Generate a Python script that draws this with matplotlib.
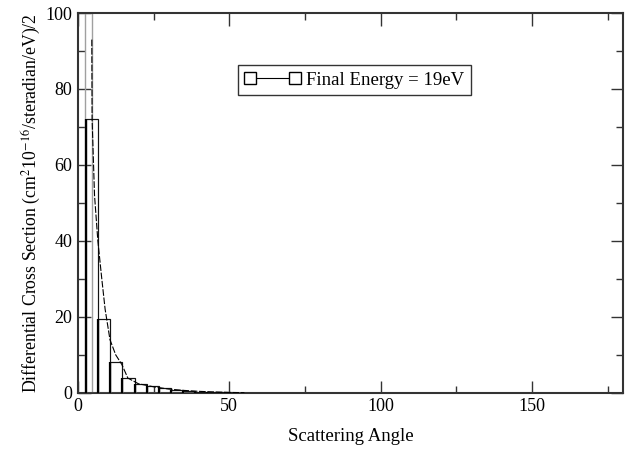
import numpy as np
import matplotlib.pyplot as plt
from matplotlib.lines import Line2D

# histogram bins (left edges, width 4 deg) and heights
bin_left = [2.7, 6.7, 10.7, 14.7, 18.7, 22.7, 26.7, 30.7, 34.7, 38.7, 42.7, 46.7, 50.7]
bin_height = [72, 19.5, 8.1, 3.9, 2.3, 1.8, 1.2, 0.8, 0.6, 0.35, 0.2, 0.12, 0.08]
bin_width = 4.0

# narrow first bin (off scale)
spike_left = 2.3
spike_right = 4.6
spike_height = 130

# smooth curve through the histogram
curve_x = [4.6, 4.7, 5.5, 6.6, 7.9, 9.0, 10.6, 12.5, 14.5, 16.5, 20, 25, 30, 35, 40, 45, 50, 55]
curve_y = [93, 72, 52, 40, 30, 22, 14, 10, 7.5, 3.9, 2.4, 1.6, 1.0, 0.65, 0.4, 0.25, 0.12, 0.05]

plt.rcParams['font.family'] = ['Liberation Serif', 'DejaVu Serif']
plt.rcParams['mathtext.fontset'] = 'stix'

fig = plt.figure(figsize=(6.28, 4.49), dpi=100)
ax = fig.add_axes([0.124, 0.125, 0.868, 0.846])

# tall spike
ax.bar(spike_left, spike_height, width=spike_right - spike_left, align='edge',
       facecolor='none', edgecolor='#a0a0a0', linewidth=1.0, zorder=2)

# bars: gray outline, black left edge
ax.bar(bin_left, bin_height, width=bin_width, align='edge',
       facecolor='none', edgecolor='#808080', linewidth=1.0, zorder=3)
ax.bar(bin_left, bin_height, width=bin_width, align='edge',
       facecolor='none', edgecolor='black', linewidth=0.6, zorder=3)
ax.vlines(bin_left, 0, bin_height, colors='black', linewidth=1.6, zorder=4)

ax.plot(curve_x, curve_y, color='black', linewidth=0.8, linestyle=(0, (6, 1.5)), zorder=5)

ax.set_xlim(0, 180)
ax.set_ylim(0, 100)
ax.set_xticks([0, 50, 100, 150])
ax.set_xticks([25, 75, 125, 175], minor=True)
ax.set_yticks([0, 20, 40, 60, 80, 100])
ax.set_yticks([10, 30, 50, 70, 90], minor=True)
ax.tick_params(which='both', direction='in', top=True, right=True,
               labelsize=13, width=1.0, color='#333333')
ax.tick_params(which='major', length=9, pad=4)
ax.tick_params(which='minor', length=5)
for s in ax.spines.values():
    s.set_linewidth(1.5)
    s.set_color('#333333')

ax.set_xlabel('Scattering Angle', fontsize=13.5, labelpad=9)
ax.set_ylabel('Differential Cross Section (cm$^2$10$^{-16}$/steradian/eV)/2',
              fontsize=12.8)
ax.yaxis.set_label_coords(-0.064, 0.5)

handle = Line2D([0], [0], color='black', linewidth=0.8, marker='s',
                markersize=9, markerfacecolor='white', markeredgecolor='black',
                markeredgewidth=1.0)
leg = ax.legend([handle], ['Final Energy = 19eV'], loc='center',
                bbox_to_anchor=(0.507, 0.823), numpoints=2, handlelength=3.0,
                fontsize=13.5, frameon=True, fancybox=False, borderpad=0.35,
                handletextpad=0.3, borderaxespad=0)
leg.get_frame().set_edgecolor('black')
leg.get_frame().set_linewidth(1.0)

fig.savefig('out.png', dpi=100)
